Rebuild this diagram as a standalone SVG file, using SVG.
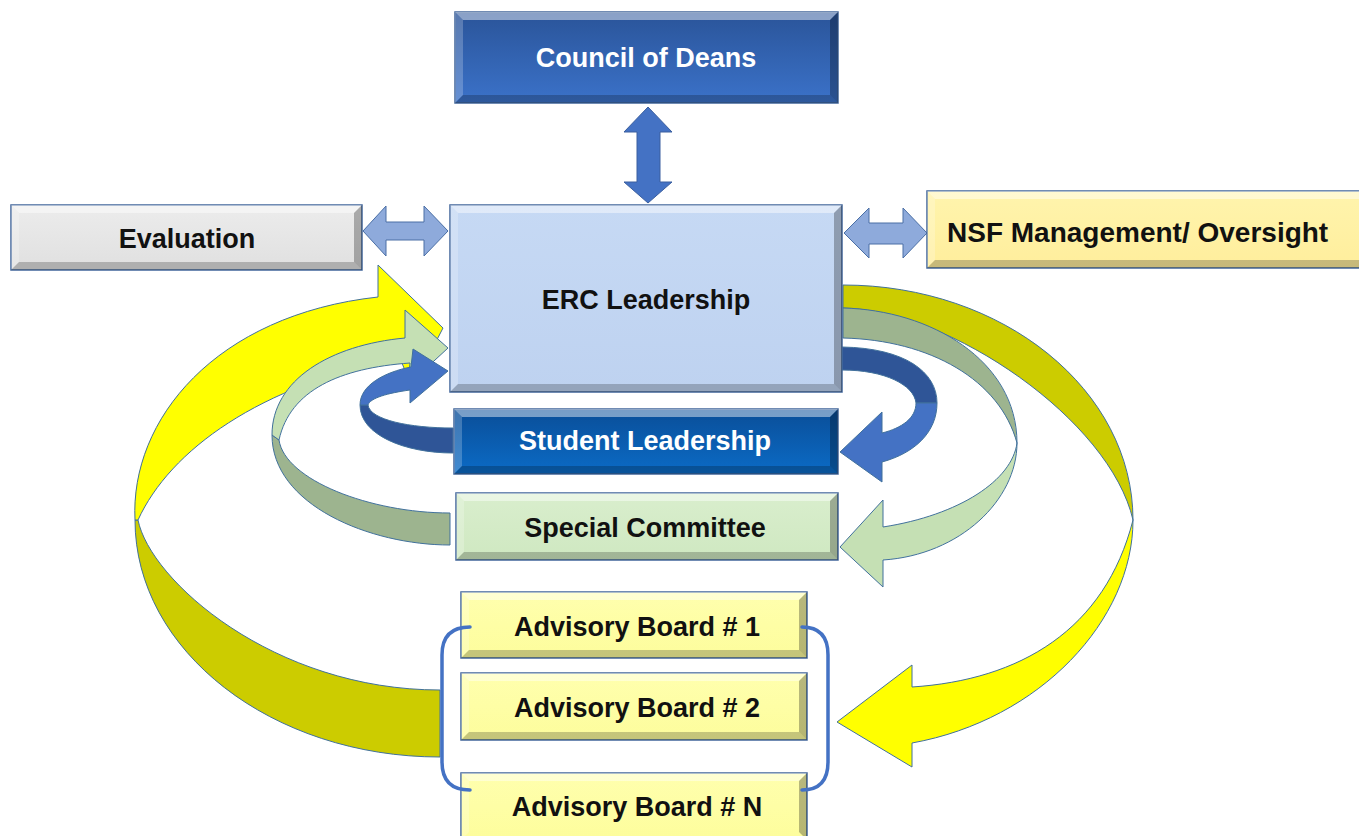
<svg xmlns="http://www.w3.org/2000/svg" width="1359" height="836" viewBox="0 0 1359 836">
<defs>
<linearGradient id="gCouncil" x1="0" y1="0" x2="0" y2="1"><stop offset="0" stop-color="#2a5499"/><stop offset="1" stop-color="#3b72c9"/></linearGradient>
<linearGradient id="gStudent" x1="0" y1="0" x2="0" y2="1"><stop offset="0" stop-color="#0a4e98"/><stop offset="1" stop-color="#0b6bc6"/></linearGradient>
<linearGradient id="gErc" x1="0" y1="0" x2="0" y2="1"><stop offset="0" stop-color="#c6d9f4"/><stop offset="1" stop-color="#bed2f0"/></linearGradient>
<linearGradient id="gEval" x1="0" y1="0" x2="0" y2="1"><stop offset="0" stop-color="#ececec"/><stop offset="1" stop-color="#e0e0e0"/></linearGradient>
<linearGradient id="gNsf" x1="0" y1="0" x2="0" y2="1"><stop offset="0" stop-color="#fff4ad"/><stop offset="1" stop-color="#ffee9c"/></linearGradient>
<linearGradient id="gSpec" x1="0" y1="0" x2="0" y2="1"><stop offset="0" stop-color="#d9eecd"/><stop offset="1" stop-color="#cfe8c1"/></linearGradient>
<linearGradient id="gAdv" x1="0" y1="0" x2="0" y2="1"><stop offset="0" stop-color="#ffffae"/><stop offset="1" stop-color="#fdfd9c"/></linearGradient>
</defs>
<style>
.box{stroke:#41669a;stroke-width:1.5}
.bt{fill:#ffffff;opacity:.45}
.bl{fill:#ffffff;opacity:.22}
.bb{fill:#000000;opacity:.22}
.br{fill:#000000;opacity:.28}
.t{font-family:"Liberation Sans",Arial,sans-serif;font-weight:bold;font-size:27px;fill:#111;text-anchor:middle;dominant-baseline:central}
.w{fill:#ffffff}
.arr{stroke:#41719c;stroke-width:1;stroke-linejoin:round}
.yf{fill:#ffff00}.yb{fill:#cccc00}
.gf{fill:#c5e0b4}.gb{fill:#9db48f}
.bf{fill:#4472c4}.bk{fill:#2f5597}
.dbl{fill:#8eaadb;stroke:#4a6fa5;stroke-width:1}
.vert{fill:#4472c4;stroke:#3a5f9f;stroke-width:1}
.brk{fill:none;stroke:#4472c4;stroke-width:3.5;stroke-linecap:round}
</style>
<rect width="1359" height="836" fill="#ffffff"/>

<g id="connectors">
  <!-- yellow loop (advisory boards) -->
  <path class="arr yb" d="M 135 520 C 135 651, 272 757, 440 757 L 440 690 C 273 690, 150 580, 138 520 Z"/>
  <path class="arr yf" d="M 135 520 C 130 420, 215 315, 378 297 L 378 265 L 443 328 L 412 388 L 400 358 C 260 385, 170 450, 138 520 Z"/>
  <path class="arr yb" d="M 843 285 C 1003 285, 1133 390, 1133 520 C 1110 420, 950 310, 843 308 Z"/>
  <path class="arr yf" d="M 1133 520 C 1133 620, 1040 720, 912 743 L 912 767 L 837 722 L 912 665 L 912 687 C 1020 680, 1105 630, 1133 520 Z"/>
  <!-- green loop (special committee) -->
  <path class="arr gb" d="M 450 545 C 370 545, 272 505, 272 435 L 279 440 C 285 480, 370 513, 450 513 Z"/>
  <path class="arr gf" d="M 272 435 C 272 380, 330 345, 405 338 L 405 310 L 448 348 L 408 385 L 410 363 C 340 368, 290 390, 279 440 Z"/>
  <path class="arr gb" d="M 843 308 C 930 310, 1017 360, 1017 443 C 1000 380, 930 340, 843 338 Z"/>
  <path class="arr gf" d="M 1017 443 C 1017 500, 960 555, 883 560 L 883 587 L 840 547 L 883 500 L 883 527 C 960 515, 1012 480, 1017 443 Z"/>
  <!-- blue loop (student leadership) -->
  <path class="arr bk" d="M 453 453 C 405 453, 360 435, 360 405 L 368 405 C 370 420, 410 428, 453 428 Z"/>
  <path class="arr bf" d="M 360 405 C 360 385, 385 372, 411 367 L 413 349 L 448 371 L 410 403 L 410 390 C 388 393, 370 398, 368 405 Z"/>
  <path class="arr bk" d="M 842 347 C 905 348, 937 372, 937 403 L 916 403 C 914 385, 885 370, 842 370 Z"/>
  <path class="arr bf" d="M 937 403 C 937 432, 915 453, 882 462 L 882 482 L 840 452 L 882 412 L 882 433 C 902 428, 916 418, 916 403 Z"/>
  <!-- double arrows -->
  <path class="vert" d="M 648 107 L 672 132 L 660 132 L 660 182 L 672 182 L 648 203 L 624 182 L 637 182 L 637 132 L 624 132 Z"/>
  <path class="dbl" d="M 363 231 L 386 206 L 386 222 L 424 222 L 424 206 L 448 231 L 424 256 L 424 240 L 386 240 L 386 256 Z"/>
  <path class="dbl" d="M 844 233 L 869 208 L 869 223 L 903 223 L 903 208 L 927 233 L 903 258 L 903 244 L 869 244 L 869 258 Z"/>
</g>

<g id="council">
  <rect class="box" x="455" y="12" width="383" height="91" fill="url(#gCouncil)"/>
  <polygon class="bt" points="455,12 838,12 830,20 463,20"/>
  <polygon class="bl" points="455,12 463,20 463,95 455,103"/>
  <polygon class="bb" points="455,103 463,95 830,95 838,103"/>
  <polygon class="br" points="838,12 838,103 830,95 830,20"/>
  <text class="t w" x="646" y="58">Council of Deans</text>
</g>

<g id="evaluation">
  <rect class="box" x="11" y="205" width="351" height="65" fill="url(#gEval)"/>
  <polygon class="bt" points="11,205 362,205 354,213 19,213"/>
  <polygon class="bl" points="11,205 19,213 19,262 11,270"/>
  <polygon class="bb" points="11,270 19,262 354,262 362,270"/>
  <polygon class="br" points="362,205 362,270 354,262 354,213"/>
  <text class="t" x="187" y="239">Evaluation</text>
</g>

<g id="erc">
  <rect class="box" x="450" y="205" width="392" height="187" fill="url(#gErc)"/>
  <polygon class="bt" points="450,205 842,205 834,213 458,213"/>
  <polygon class="bl" points="450,205 458,213 458,384 450,392"/>
  <polygon class="bb" points="450,392 458,384 834,384 842,392"/>
  <polygon class="br" points="842,205 842,392 834,384 834,213"/>
  <text class="t" x="646" y="300">ERC Leadership</text>
</g>

<g id="nsf">
  <rect class="box" x="927" y="191" width="440" height="77" fill="url(#gNsf)"/>
  <polygon class="bt" points="927,191 1367,191 1359,199 935,199"/>
  <polygon class="bl" points="927,191 935,199 935,260 927,268"/>
  <polygon class="bb" points="927,268 935,260 1359,260 1367,268"/>
  <text class="t" x="947" y="232" style="text-anchor:start;font-size:28px">NSF Management/ Oversight</text>
</g>

<g id="student">
  <rect class="box" x="454" y="409" width="384" height="65" fill="url(#gStudent)"/>
  <polygon class="bt" points="454,409 838,409 830,417 462,417"/>
  <polygon class="bl" points="454,409 462,417 462,466 454,474"/>
  <polygon class="bb" points="454,474 462,466 830,466 838,474"/>
  <polygon class="br" points="838,409 838,474 830,466 830,417"/>
  <text class="t w" x="645" y="441">Student Leadership</text>
</g>

<g id="special">
  <rect class="box" x="456" y="493" width="382" height="67" fill="url(#gSpec)"/>
  <polygon class="bt" points="456,493 838,493 830,501 464,501"/>
  <polygon class="bl" points="456,493 464,501 464,552 456,560"/>
  <polygon class="bb" points="456,560 464,552 830,552 838,560"/>
  <polygon class="br" points="838,493 838,560 830,552 830,501"/>
  <text class="t" x="645" y="528">Special Committee</text>
</g>

<g id="advisory1">
  <rect class="box" x="461" y="592" width="346" height="66" fill="url(#gAdv)"/>
  <polygon class="bt" points="461,592 807,592 799,600 469,600"/>
  <polygon class="bl" points="461,592 469,600 469,650 461,658"/>
  <polygon class="bb" points="461,658 469,650 799,650 807,658"/>
  <polygon class="br" points="807,592 807,658 799,650 799,600"/>
  <text class="t" x="637" y="627">Advisory Board # 1</text>
</g>

<g id="advisory2">
  <rect class="box" x="461" y="673" width="346" height="67" fill="url(#gAdv)"/>
  <polygon class="bt" points="461,673 807,673 799,681 469,681"/>
  <polygon class="bl" points="461,673 469,681 469,732 461,740"/>
  <polygon class="bb" points="461,740 469,732 799,732 807,740"/>
  <polygon class="br" points="807,673 807,740 799,732 799,681"/>
  <text class="t" x="637" y="708">Advisory Board # 2</text>
</g>

<g id="advisoryN">
  <rect class="box" x="461" y="773" width="346" height="67" fill="url(#gAdv)"/>
  <polygon class="bt" points="461,773 807,773 799,781 469,781"/>
  <polygon class="bl" points="461,773 469,781 469,832 461,840"/>
  <polygon class="br" points="807,773 807,840 799,832 799,781"/>
  <text class="t" x="637" y="807">Advisory Board # N</text>
</g>

<g id="bracket">
  <path class="brk" d="M 470 627 Q 442 627 442 655 L 442 762 Q 442 790 470 790"/>
  <path class="brk" d="M 802 627 Q 828 627 828 655 L 828 762 Q 828 790 802 790"/>
</g>
</svg>
